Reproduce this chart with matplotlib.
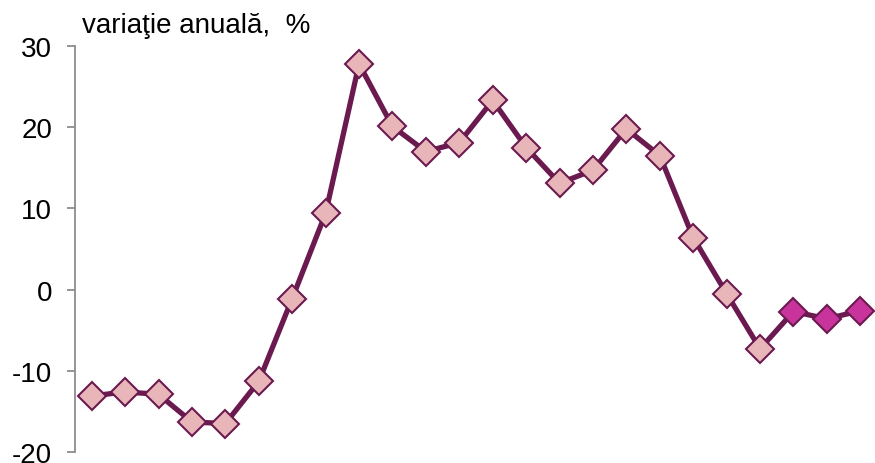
import numpy as np
from matplotlib import pyplot as plt

plt.rcParams['font.family'] = ['Liberation Sans', 'DejaVu Sans']
plt.rcParams['axes.unicode_minus'] = False

# annual change, %  (last three points are the forecast)
values = [-13.1, -12.6, -12.9, -16.3, -16.5, -11.3, -1.1, 9.4, 27.8, 20.1,
          17.0, 18.1, 23.3, 17.5, 13.1, 14.7, 19.8, 16.5, 6.4, -0.5,
          -7.3, -2.7, -3.6, -2.6]
n_forecast = 3
yticks = [-20, -10, 0, 10, 20, 30]
ylabel = 'variaţie anuală,  %'

line_col = '#6b1a50'
fill_col = '#e8b6b8'
fcst_col = '#c8339c'

fig = plt.figure(figsize=(8.75, 4.64), dpi=100)
ax = fig.add_axes([0.0857, 0.0237, 0.9166, 0.875])

x = np.arange(len(values))
n_hist = len(values) - n_forecast
ax.plot(x, values, '-', color=line_col, lw=3.8, zorder=2)
ax.plot(x[:n_hist], values[:n_hist], 'D', ms=14, mfc=fill_col, mec=line_col,
        mew=1.5, ls='none', zorder=3, clip_on=False)
ax.plot(x[n_hist:], values[n_hist:], 'D', ms=14, mfc=fcst_col, mec=line_col,
        mew=1.5, ls='none', zorder=3, clip_on=False)

ax.set_xlim(-0.5, len(values) - 0.5)
ax.set_ylim(-20, 30)
ax.set_yticks(yticks)
ax.set_xticks([])
for s in ['top', 'right', 'bottom']:
    ax.spines[s].set_visible(False)
ax.spines['left'].set_color('#8c8c8c')
ax.spines['left'].set_linewidth(1.3)
ax.tick_params(axis='y', direction='out', length=5.5, width=1.3, color='#8c8c8c',
               pad=11, labelsize=20)

fig.text(0.094, 1 - 33 / 464, ylabel, fontsize=20, ha='left', va='baseline')

fig.savefig('out.png', dpi=100)
